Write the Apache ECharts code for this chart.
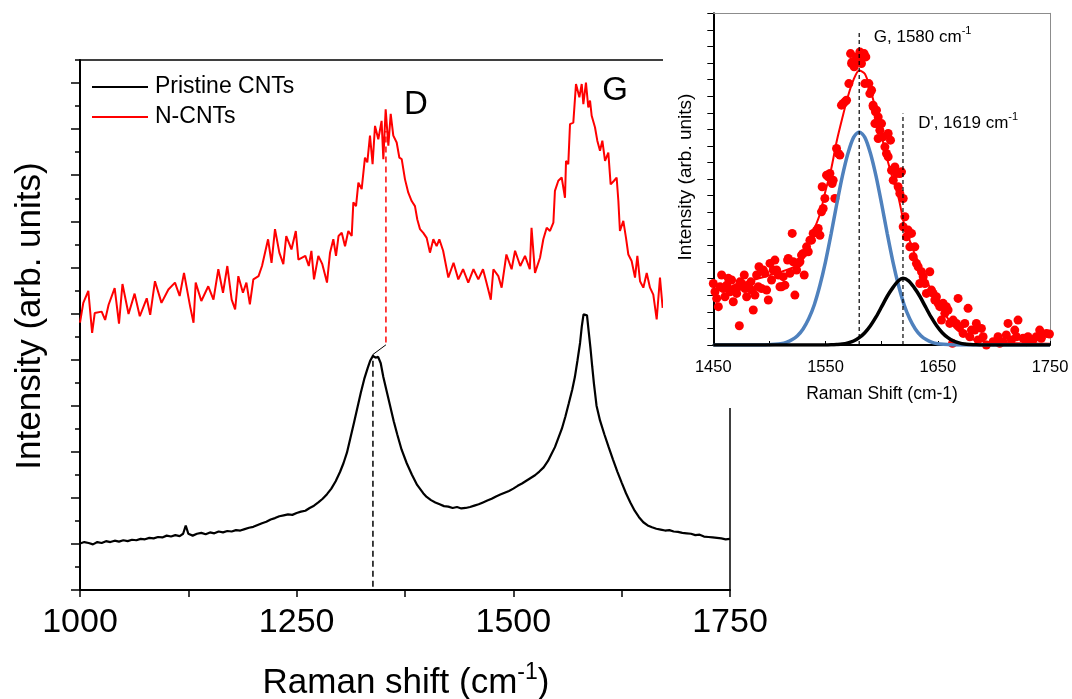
<!DOCTYPE html>
<html><head><meta charset="utf-8">
<script src="https://cdn.jsdelivr.net/npm/echarts@6/dist/echarts.min.js"></script>
<style>html,body{margin:0;padding:0;background:#fff}#c{width:1072px;height:699px}</style>
</head><body><div id="c"></div>
<script>
const FONT = "'Liberation Sans', Arial, Helvetica, sans-serif";

// ---- main chart data ----
const mainXLabels = [1000, 1250, 1500, 1750];
const mainYMajor = [0,1,2,3,4,5,6,7,8,9,10,11];
const mainYMinor = [0.5,1.5,2.5,3.5,4.5,5.5,6.5,7.5,8.5,9.5,10.5,11.5];

const pristine = [[1000,1.01],[1005,1.04],[1010,1.02],[1015,0.99],[1020,1.04],[1025,1.02],[1030,1.06],[1035,1.04],[1040,1.07],[1045,1.05],[1050,1.08],[1055,1.06],[1060,1.09],[1065,1.08],[1070,1.11],[1075,1.10],[1080,1.13],[1085,1.12],[1090,1.15],[1095,1.14],[1100,1.18],[1105,1.16],[1110,1.19],[1115,1.17],[1119,1.22],[1122,1.40],[1125,1.22],[1130,1.18],[1135,1.22],[1140,1.24],[1145,1.21],[1150,1.25],[1155,1.23],[1160,1.27],[1165,1.25],[1170,1.28],[1175,1.27],[1180,1.30],[1185,1.29],[1190,1.32],[1195,1.35],[1200,1.37],[1205,1.41],[1210,1.45],[1215,1.48],[1220,1.53],[1225,1.56],[1230,1.60],[1235,1.62],[1240,1.64],[1245,1.63],[1250,1.67],[1255,1.70],[1260,1.72],[1265,1.78],[1270,1.83],[1275,1.90],[1280,1.98],[1285,2.08],[1290,2.20],[1295,2.36],[1300,2.56],[1304,2.75],[1308,2.98],[1312,3.30],[1316,3.62],[1320,3.95],[1324,4.28],[1328,4.58],[1332,4.82],[1335,4.98],[1338,5.08],[1341,5.04],[1344,5.06],[1347,4.92],[1350,4.62],[1354,4.30],[1358,3.98],[1362,3.66],[1366,3.38],[1371,3.05],[1377,2.75],[1383,2.50],[1389,2.28],[1396,2.10],[1400,2.02],[1405,1.95],[1410,1.90],[1415,1.86],[1420,1.82],[1425,1.81],[1430,1.78],[1435,1.80],[1440,1.77],[1445,1.78],[1450,1.80],[1455,1.83],[1460,1.86],[1465,1.90],[1470,1.94],[1475,1.98],[1480,2.03],[1485,2.07],[1490,2.11],[1495,2.15],[1500,2.20],[1505,2.26],[1510,2.31],[1515,2.37],[1520,2.43],[1525,2.49],[1530,2.57],[1535,2.66],[1540,2.80],[1544,2.95],[1548,3.10],[1552,3.30],[1556,3.50],[1560,3.76],[1564,4.05],[1568,4.35],[1571,4.62],[1574,4.98],[1577,5.36],[1579,5.72],[1581,5.98],[1583,6.00],[1585,5.96],[1587,5.60],[1589,5.25],[1591,4.85],[1593,4.48],[1596,4.00],[1600,3.68],[1605,3.38],[1610,3.10],[1615,2.83],[1620,2.57],[1625,2.33],[1630,2.10],[1635,1.90],[1640,1.72],[1645,1.58],[1650,1.47],[1655,1.40],[1660,1.36],[1665,1.33],[1670,1.31],[1675,1.29],[1680,1.30],[1685,1.27],[1690,1.26],[1695,1.24],[1700,1.23],[1705,1.22],[1710,1.19],[1715,1.20],[1720,1.16],[1725,1.15],[1730,1.14],[1735,1.13],[1740,1.12],[1745,1.10],[1750,1.11]];

const nCNTs = [[1000,5.80],[1003.8,6.23],[1009.6,6.49],[1014,5.58],[1017,6.01],[1025,6.04],[1029,5.86],[1033,6.19],[1040,6.55],[1045,5.78],[1049,6.64],[1056,5.99],[1063,6.43],[1069,5.94],[1077,6.33],[1081,5.97],[1086.5,6.70],[1094,6.23],[1102,6.52],[1109.6,6.67],[1115,6.38],[1120,6.88],[1127,6.16],[1131,5.80],[1133.5,6.67],[1140,6.27],[1148,6.59],[1154,6.30],[1159.6,6.96],[1165,6.45],[1170,7.03],[1175,6.30],[1179,6.09],[1182.7,6.81],[1188,6.45],[1192,6.67],[1196,6.20],[1200,6.74],[1206,6.81],[1210,7.03],[1214,7.36],[1217,7.61],[1221,7.10],[1225,7.83],[1230,7.32],[1234.6,7.07],[1238,7.68],[1244,7.39],[1249,7.79],[1252,7.17],[1260,7.25],[1264,7.03],[1267,7.36],[1270,6.74],[1275,7.25],[1279.6,7.07],[1285,6.67],[1288.5,7.32],[1292.3,7.61],[1295.4,7.25],[1298.3,7.68],[1302,7.75],[1305.8,7.46],[1309.6,7.79],[1313.5,7.68],[1315.4,8.41],[1318.5,8.33],[1321.2,8.84],[1325,8.70],[1328.8,9.38],[1331.5,9.28],[1334.6,9.86],[1337.6,9.24],[1340.4,10.07],[1344.2,9.78],[1348,10.18],[1350,9.35],[1352.7,10.43],[1355.8,9.64],[1358.5,10.33],[1361.5,9.86],[1365.4,9.71],[1368.5,9.38],[1371.2,9.35],[1375,8.91],[1378.8,8.62],[1382.7,8.44],[1386.5,8.33],[1389.2,8.04],[1392.3,7.83],[1396.1,7.75],[1400,7.64],[1403.8,7.32],[1407.7,7.61],[1411.5,7.46],[1414.6,7.61],[1419,7.36],[1425,6.78],[1431,7.10],[1436.5,6.74],[1442,6.96],[1448,6.67],[1454,6.96],[1459.6,6.74],[1465,6.96],[1469,6.67],[1474,6.30],[1477,6.96],[1482.7,6.81],[1486.5,6.56],[1492,7.28],[1498,6.96],[1502,7.36],[1508,7.03],[1513.5,7.25],[1519,6.96],[1521,7.86],[1525,6.88],[1530.8,7.21],[1534.6,7.61],[1538.5,7.86],[1542.3,7.79],[1546.2,7.97],[1548,8.66],[1551.9,8.88],[1555.8,8.95],[1559.6,8.51],[1560.8,9.31],[1563.4,9.24],[1565.4,10.11],[1569.2,10.14],[1572.3,10.98],[1576.2,10.69],[1578.9,10.98],[1580.8,10.54],[1583.8,11.01],[1586.5,10.47],[1588.5,10.62],[1590.4,10.29],[1594.2,10.04],[1596.9,9.75],[1600,9.53],[1602.7,9.75],[1605.8,9.31],[1609.6,9.49],[1612.3,8.80],[1616.2,8.88],[1619.2,8.95],[1621.2,8.44],[1623,7.79],[1626.9,8.01],[1630,7.64],[1632.7,7.28],[1636.5,7.14],[1640.4,6.78],[1643.1,7.25],[1646.2,6.70],[1650,6.56],[1653.9,6.88],[1657.7,6.56],[1661.5,6.41],[1665.4,5.87],[1669.2,6.78],[1672.3,6.12]];

const dMarkN = [[1353,5.37],[1353,9.96]];
const dMarkP = [[1338,0.07],[1338,5.11]];
const dLink = [[1338,5.11],[1353,5.32]];
const dLabelAt = [1387.7,10.53];
const gLabelAt = [1617.3,10.84];

// ---- inset data ----
const insetXLabels = [1450, 1550, 1650, 1750];
const insetDots = [[1450.0,3.71],[1451.5,3.21],[1453.0,2.81],[1454.5,2.31],[1456.0,3.51],[1457.4,4.22],[1458.9,3.41],[1460.4,2.91],[1461.9,3.61],[1463.4,4.02],[1464.9,3.21],[1466.3,3.92],[1467.8,2.61],[1469.3,3.41],[1470.8,3.11],[1472.3,3.51],[1473.2,1.16],[1473.8,3.81],[1475.2,3.71],[1477.6,4.22],[1478.2,3.41],[1479.7,2.91],[1481.2,3.51],[1483.5,3.81],[1484.1,3.31],[1485.6,2.11],[1487.1,3.01],[1488.6,4.22],[1490.1,3.51],[1490.7,4.72],[1493.0,3.41],[1494.5,4.52],[1496.0,4.32],[1497.5,3.31],[1499.0,2.71],[1500.5,4.92],[1501.9,3.92],[1503.4,4.52],[1504.9,5.12],[1506.4,4.52],[1507.9,4.22],[1509.4,3.51],[1510.8,3.51],[1512.3,4.12],[1513.8,3.61],[1516.2,5.12],[1516.8,5.22],[1518.3,4.32],[1520.3,6.73],[1521.2,5.02],[1522.7,3.01],[1524.2,4.52],[1525.7,4.92],[1527.2,5.02],[1528.6,5.42],[1530.1,5.52],[1531.0,4.22],[1533.1,5.92],[1534.6,5.62],[1536.1,6.32],[1537.5,6.32],[1539.0,6.73],[1542.0,6.93],[1543.5,7.03],[1545.0,6.62],[1546.4,8.03],[1547.0,9.54],[1547.9,8.23],[1549.4,8.84],[1550.9,10.24],[1552.4,10.14],[1553.9,10.34],[1555.9,9.74],[1556.8,9.94],[1558.3,8.84],[1559.8,11.85],[1561.3,11.55],[1562.8,11.45],[1564.2,14.46],[1565.7,14.56],[1567.2,14.66],[1568.7,14.76],[1570.8,15.76],[1572.3,17.57],[1573.2,16.97],[1573.7,17.07],[1575.5,16.77],[1577.6,17.37],[1579.1,17.17],[1580.6,17.67],[1582.0,16.97],[1583.5,17.37],[1584.4,17.57],[1585.0,15.76],[1585.9,17.37],[1588.6,15.76],[1589.5,15.16],[1591.0,15.36],[1592.4,14.46],[1592.5,14.36],[1594.0,13.35],[1594.5,14.06],[1595.4,14.16],[1596.3,13.35],[1596.9,12.45],[1596.9,13.75],[1598.4,12.95],[1599.9,13.35],[1601.4,12.55],[1602.9,11.95],[1604.3,11.55],[1605.8,12.75],[1605.8,11.35],[1607.9,12.35],[1608.8,10.54],[1610.3,9.94],[1611.8,10.74],[1613.2,10.34],[1614.7,9.54],[1616.2,9.14],[1616.2,10.34],[1617.7,10.44],[1619.2,8.83],[1619.2,7.13],[1620.7,7.73],[1622.1,6.53],[1623.6,6.93],[1625.1,5.92],[1626.6,6.73],[1628.1,5.32],[1629.6,5.92],[1631.0,4.92],[1632.5,4.72],[1634.0,3.71],[1635.5,4.42],[1637.0,4.12],[1638.5,3.71],[1639.9,3.11],[1642.9,4.42],[1644.4,3.31],[1645.9,3.11],[1647.4,2.71],[1648.8,2.91],[1650.3,2.51],[1651.8,2.31],[1653.3,1.50],[1654.8,2.51],[1656.3,1.91],[1657.7,2.31],[1659.2,2.11],[1660.7,1.30],[1663.1,0.10],[1663.7,1.50],[1666.6,1.30],[1668.1,2.81],[1669.6,1.10],[1672.6,0.70],[1674.1,1.30],[1677.0,2.21],[1678.5,0.50],[1680.0,0.90],[1683.0,0.90],[1684.4,1.30],[1685.9,0.30],[1688.9,1.00],[1690.4,0.50],[1693.3,0.00],[1699.3,0.20],[1703.7,0.50],[1705.2,0.10],[1708.2,0.20],[1711.1,0.60],[1712.6,1.30],[1715.6,0.30],[1718.6,0.90],[1720.1,0.50],[1721.5,1.50],[1726.0,0.40],[1729.0,0.20],[1730.4,0.50],[1734.9,0.30],[1737.8,0.50],[1740.8,0.90],[1742.3,0.40],[1746.8,0.70],[1749.5,0.66]];

const insetFit = [[1450,3.2],[1460,3.4],[1470,3.6],[1480,3.8],[1490,4.0],[1500,4.2],[1510,4.4],[1520,4.65],[1526,4.85],[1530,5.2],[1535,6.2],[1540,7.0],[1545,7.9],[1550,9.3],[1555,10.6],[1560,12.3],[1565,13.7],[1570,15.0],[1575,16.0],[1580,16.55],[1585,16.35],[1590,15.4],[1595,14.1],[1600,12.6],[1605,11.2],[1610,10.0],[1615,8.9],[1620,7.3],[1625,6.3],[1630,5.4],[1635,4.7],[1640,3.9],[1645,3.2],[1650,2.6],[1655,2.0],[1660,1.5],[1665,1.05],[1670,0.75],[1675,0.5],[1680,0.35],[1690,0.22],[1700,0.15],[1720,0.1],[1750,0.08]];

const insetGBand = [[1450,0],[1495,0],[1500,0.02],[1505,0.04],[1510,0.08],[1515,0.16],[1520,0.31],[1525,0.56],[1530,0.97],[1535,1.58],[1540,2.43],[1545,3.60],[1550,5.03],[1555,6.71],[1560,8.50],[1565,10.18],[1570,11.56],[1575,12.52],[1580,12.85],[1585,12.52],[1590,11.56],[1595,10.18],[1600,8.50],[1605,6.71],[1610,5.03],[1615,3.60],[1620,2.43],[1625,1.58],[1630,0.97],[1635,0.56],[1640,0.31],[1645,0.16],[1650,0.08],[1655,0.04],[1660,0.02],[1665,0],[1750,0]];

const insetDBand = [[1450,0],[1550,0],[1555,0.01],[1560,0.03],[1565,0.06],[1570,0.13],[1575,0.24],[1580,0.44],[1585,0.74],[1590,1.16],[1595,1.69],[1600,2.31],[1605,2.94],[1610,3.46],[1615,3.87],[1619,4.02],[1624,3.87],[1629,3.46],[1634,2.94],[1639,2.31],[1644,1.69],[1649,1.16],[1654,0.74],[1659,0.44],[1664,0.24],[1669,0.13],[1674,0.06],[1679,0.03],[1684,0.01],[1690,0],[1750,0]];

const gMark = [[1580,0],[1580,18.98]];
const dPrimeMark = [[1619,0],[1619,13.96]];
const gTextAt = [1593,18.64];
const dPrimeTextAt = [1632.5,13.46];

const chart = echarts.init(document.getElementById('c'), null, {renderer:'canvas'});

const noSplit = {show:false};
const option = {
  animation:false,
  backgroundColor:'#fff',
  textStyle:{fontFamily:FONT},
  grid:[
    {left:80, top:60, width:650, height:530, outerBoundsMode:'none'},
    {left:713.3, top:13.3, width:336.7, height:331.7, outerBoundsMode:'none', z:60}
  ],
  legend:{
    data:['Pristine CNTs','N-CNTs'], orient:'vertical', left:92, top:75.5, padding:0,
    icon:'rect', itemWidth:56, itemHeight:2, itemGap:7,
    textStyle:{fontSize:23, color:'#000', fontFamily:FONT, padding:[0,0,0,2]}
  },
  xAxis:[
    {gridIndex:0, type:'value', min:1000, max:1750, interval:125, position:'bottom',
     axisLine:{show:true, onZero:false, lineStyle:{color:'#000', width:2}},
     axisTick:{show:true, inside:false, length:7, lineStyle:{color:'#000', width:1.5}},
     axisLabel:{show:true, margin:16, fontSize:34, color:'#000', fontFamily:FONT,
       formatter:v=>mainXLabels.includes(v)?String(v):''},
     splitLine:noSplit},
    {gridIndex:0, type:'value', min:1000, max:1750, position:'top',
     axisLine:{show:true, onZero:false, lineStyle:{color:'#000', width:1.5}},
     axisTick:{show:false}, axisLabel:{show:false}, splitLine:noSplit},
    {gridIndex:1, type:'value', min:1450, max:1750, interval:50, position:'bottom', z:60,
     axisLine:{show:true, onZero:false, lineStyle:{color:'#000', width:2}},
     axisTick:{show:true, inside:true, length:4, lineStyle:{color:'#000', width:1}},
     axisLabel:{show:true, margin:14, fontSize:16.5, color:'#000', fontFamily:FONT,
       formatter:v=>insetXLabels.includes(v)?String(v):''},
     splitLine:noSplit},
    {gridIndex:1, type:'value', min:1450, max:1750, position:'top', z:60,
     axisLine:{show:true, onZero:false, lineStyle:{color:'#8c8c8c', width:1}},
     axisTick:{show:false}, axisLabel:{show:false}, splitLine:noSplit}
  ],
  yAxis:[
    {gridIndex:0, type:'value', min:0, max:11.5, position:'left',
     axisLine:{show:true, onZero:false, lineStyle:{color:'#000', width:2}},
     axisTick:{show:true, inside:false, length:5, customValues:mainYMinor, lineStyle:{color:'#000', width:1.5}},
     axisLabel:{show:false}, splitLine:noSplit},
    {gridIndex:0, type:'value', min:0, max:11.5, position:'left',
     axisLine:{show:false},
     axisTick:{show:true, inside:false, length:9, customValues:mainYMajor, lineStyle:{color:'#000', width:1.5}},
     axisLabel:{show:false}, splitLine:noSplit},
    {gridIndex:0, type:'value', min:0, max:11.5, position:'right',
     axisLine:{show:true, onZero:false, lineStyle:{color:'#000', width:1.5}},
     axisTick:{show:false}, axisLabel:{show:false}, splitLine:noSplit},
    {gridIndex:1, type:'value', min:0, max:20, interval:1, position:'left', z:60,
     axisLine:{show:true, onZero:false, lineStyle:{color:'#000', width:2}},
     axisTick:{show:true, inside:false, length:6, lineStyle:{color:'#000', width:1}},
     axisLabel:{show:false}, splitLine:noSplit},
    {gridIndex:1, type:'value', min:0, max:20, position:'right', z:60,
     axisLine:{show:true, onZero:false, lineStyle:{color:'#8c8c8c', width:1}},
     axisTick:{show:false}, axisLabel:{show:false}, splitLine:noSplit}
  ],
  series:[
    {type:'line', name:'Pristine CNTs', xAxisIndex:0, yAxisIndex:0, data:pristine, symbol:'none',
     lineStyle:{color:'#000', width:2.2}, itemStyle:{color:'#000'}, z:3},
    {type:'line', name:'N-CNTs', xAxisIndex:0, yAxisIndex:0, data:nCNTs, symbol:'none',
     lineStyle:{color:'#ff0000', width:2}, itemStyle:{color:'#ff0000'}, z:3},
    {type:'line', name:'dN', xAxisIndex:0, yAxisIndex:0, data:dMarkN, symbol:'none',
     lineStyle:{color:'#ff0000', width:1.5, type:[6,4]}, z:3},
    {type:'line', name:'dP', xAxisIndex:0, yAxisIndex:0, data:dMarkP, symbol:'none',
     lineStyle:{color:'#000', width:1.5, type:[6,4]}, z:3},
    {type:'line', name:'dL', xAxisIndex:0, yAxisIndex:0, data:dLink, symbol:'none',
     lineStyle:{color:'#000', width:1}, z:3},

    {type:'scatter', name:'dots', xAxisIndex:2, yAxisIndex:3, data:insetDots, symbol:'circle', symbolSize:9,
     itemStyle:{color:'#ff0000', opacity:1}, z:61, clip:false},
    {type:'line', name:'fit', xAxisIndex:2, yAxisIndex:3, data:insetFit, symbol:'none', smooth:0.3,
     lineStyle:{color:'#ff0000', width:2}, z:62},
    {type:'line', name:'Gband', xAxisIndex:2, yAxisIndex:3, data:insetGBand, symbol:'none', smooth:0.3,
     lineStyle:{color:'#4f81bd', width:3.5}, z:63},
    {type:'line', name:'Dband', xAxisIndex:2, yAxisIndex:3, data:insetDBand, symbol:'none', smooth:0.3,
     lineStyle:{color:'#000', width:3.5}, z:64},
    {type:'line', name:'gMark', xAxisIndex:2, yAxisIndex:3, data:gMark, symbol:'none',
     lineStyle:{color:'#000', width:1.2, type:[4,3]}, z:65},
    {type:'line', name:'dpMark', xAxisIndex:2, yAxisIndex:3, data:dPrimeMark, symbol:'none',
     lineStyle:{color:'#000', width:1.2, type:[4,3]}, z:65}
  ]
};
chart.setOption(option);

function px(axes, pt){ return chart.convertToPixel(axes, pt); }
const mainAx = {xAxisIndex:0, yAxisIndex:0};
const insAx = {xAxisIndex:2, yAxisIndex:3};
const pD = px(mainAx, dLabelAt), pG = px(mainAx, gLabelAt);
const pGt = px(insAx, gTextAt), pDt = px(insAx, dPrimeTextAt);

function txt(x, y, text, size, align, extra){
  return Object.assign({type:'text', x:x, y:y, z:70, silent:true,
    style:{text:text, fill:'#000', font:size+'px '+FONT, fontSize:size, fontFamily:FONT,
      align:align, textAlign:align, verticalAlign:'middle', textVerticalAlign:'middle'}}, extra||{});
}
function richTxt(x, y, main1, sup, main2, size, supSize, lh, align){
  return {type:'text', x:x, y:y, z:70, silent:true,
    style:{text:'{n|'+main1+'}{s|'+sup+'}'+(main2?'{n|'+main2+'}':''),
      align:align, textAlign:align, verticalAlign:'middle', textVerticalAlign:'middle',
      fill:'#000', fontFamily:FONT, fontSize:size,
      rich:{
        n:{fontSize:size, fontFamily:FONT, fill:'#000', lineHeight:lh, verticalAlign:'bottom'},
        s:{fontSize:supSize, fontFamily:FONT, fill:'#000', lineHeight:supSize+2, verticalAlign:'top'}
      }}};
}

chart.setOption({graphic:[
  {type:'rect', shape:{x:663, y:0, width:409, height:408}, style:{fill:'#fff'}, z:50, silent:true},
  richTxt(406, 681, 'Raman shift (cm', '-1', ')', 35, 23, 40, 'center'),
  txt(30, 316, 'Intensity (arb. units)', 35, 'center', {rotation:Math.PI/2}),
  txt(pD[0], pD[1], 'D', 33, 'center'),
  txt(pG[0], pG[1], 'G', 33, 'center'),
  txt(882, 394, 'Raman Shift (cm-1)', 17.5, 'center'),
  txt(686, 177, 'Intensity (arb. units)', 19, 'center', {rotation:Math.PI/2}),
  richTxt(pGt[0], pGt[1], 'G, 1580 cm', '-1', '', 17, 11, 20, 'left'),
  richTxt(pDt[0], pDt[1], "D', 1619 cm", '-1', '', 17, 11, 20, 'left')
]});
</script></body></html>
